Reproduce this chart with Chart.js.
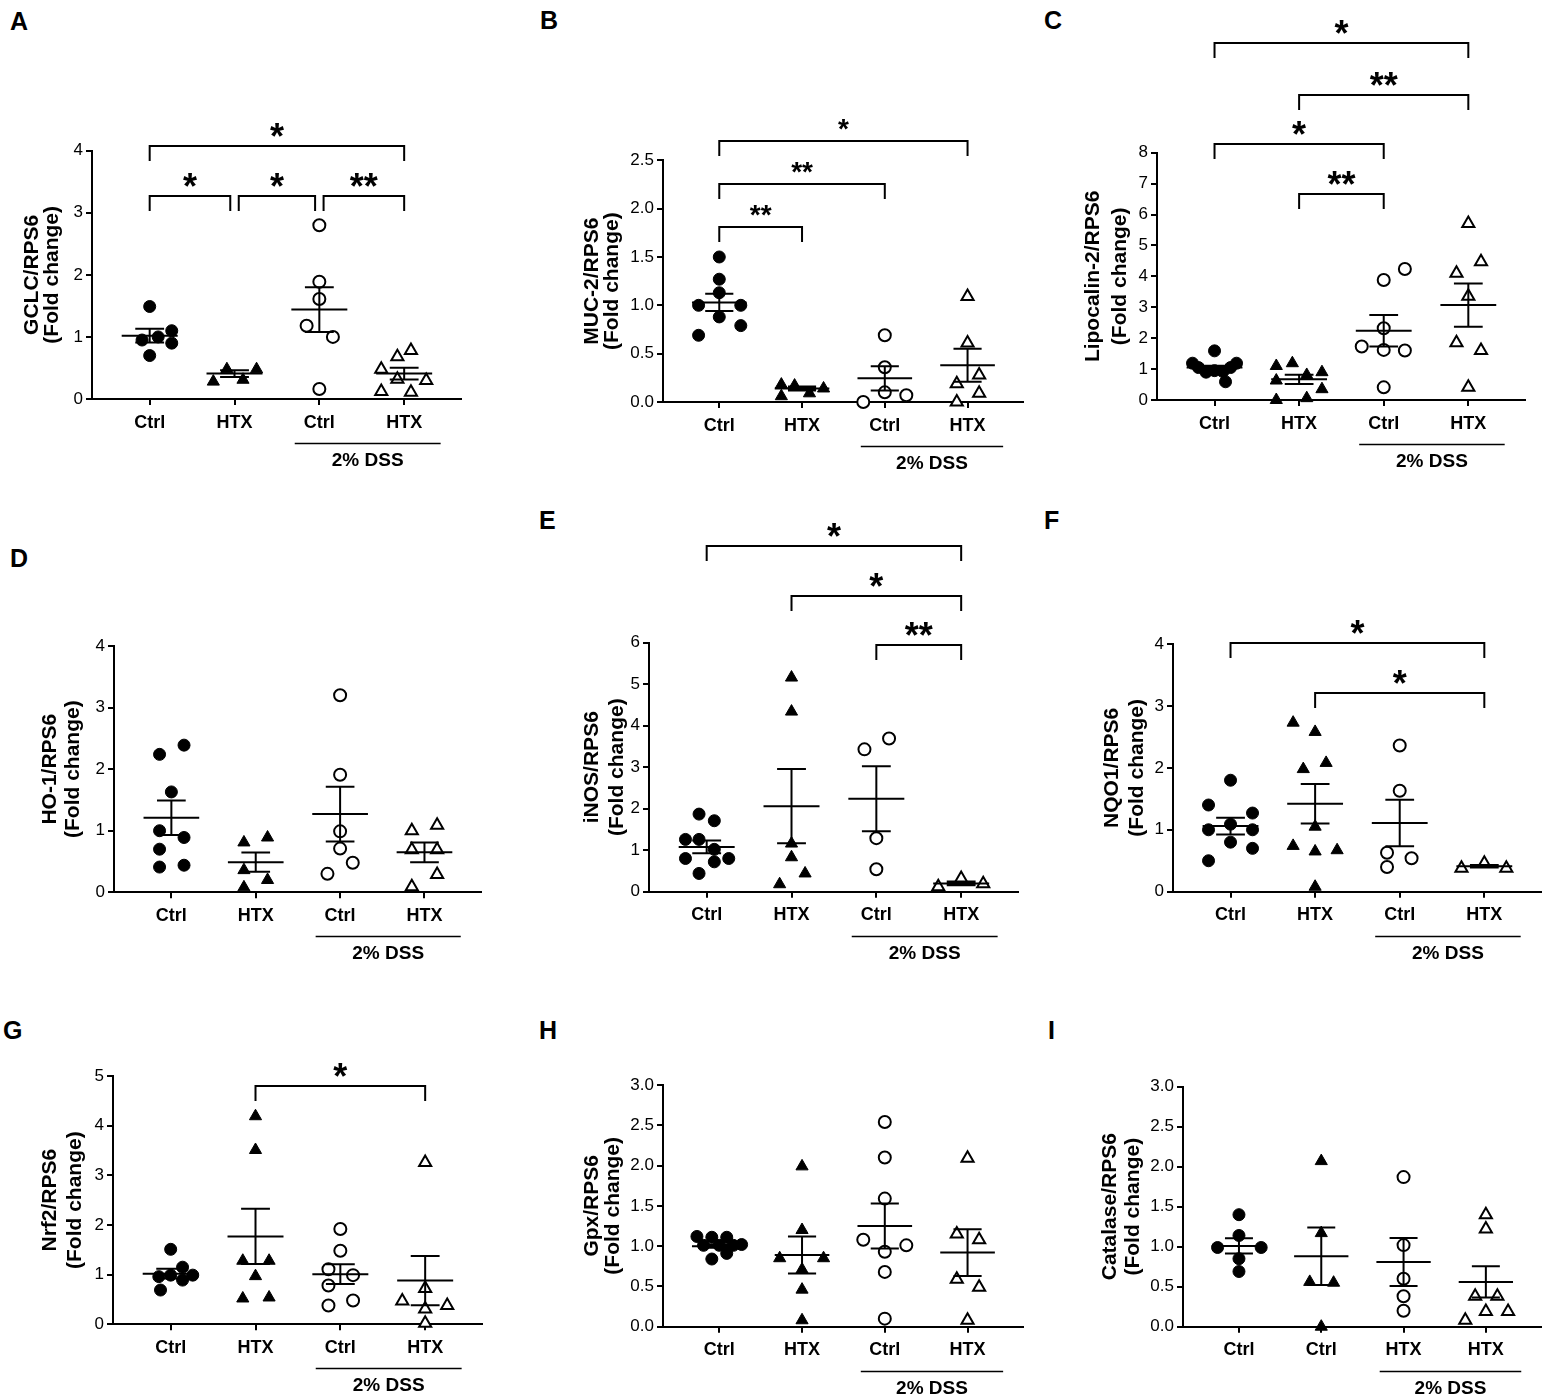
<!DOCTYPE html>
<html>
<head>
<meta charset="utf-8">
<script src="https://cdn.jsdelivr.net/npm/chart.js@4.4.1/dist/chart.umd.min.js"></script>
<style>
  body { margin: 0; background: #fff; width: 1552px; height: 1400px; position: relative; overflow: hidden;
         font-family: 'Liberation Sans', Arial, sans-serif; }
  canvas { position: absolute; }
  .tag { position: absolute; font-weight: bold; font-size: 25px; line-height: 1; color: #000; }
</style>
</head>
<body>
<div class="tag" style="left:10px;top:9px">A</div>
<div class="tag" style="left:540px;top:8px">B</div>
<div class="tag" style="left:1044px;top:8px">C</div>
<div class="tag" style="left:10px;top:546px">D</div>
<div class="tag" style="left:539px;top:508px">E</div>
<div class="tag" style="left:1044px;top:508px">F</div>
<div class="tag" style="left:3px;top:1018px">G</div>
<div class="tag" style="left:539px;top:1018px">H</div>
<div class="tag" style="left:1048px;top:1018px">I</div>
<script>
// group labels on the x axis
const groupLabels = ['Ctrl', 'HTX', 'Ctrl', 'HTX'];
const catalaseLabels = ['Ctrl', 'Ctrl', 'HTX', 'HTX'];

// A - GCLC
const gclcValues = [[1.49, 0.95, 1.00, 1.10, 0.90, 0.70], [0.28, 0.48, 0.31, 0.48],
  [2.80, 1.89, 1.61, 1.18, 1.00, 0.16], [0.78, 0.68, 0.48, 0.32, 0.30, 0.12, 0.11]];
const gclcJitter = [[0, -0.09, 0.10, 0.26, 0.26, 0], [-0.25, -0.09, 0.10, 0.26],
  [0, 0, 0, -0.15, 0.16, 0], [0.08, -0.08, -0.27, -0.08, 0.26, -0.27, 0.08]];
const gclcMean = [1.02, 0.41, 1.44, 0.41];
const gclcSem = [0.11, 0.055, 0.36, 0.095];
const gclcTicks = [0, 1, 2, 3, 4];
const gclcSig = [[0, 3, 4.08, '*'], [0, 1, 3.27, '*'], [1, 2, 3.27, '*'], [2, 3, 3.27, '**']];

// B - MUC-2
const muc2Values = [[1.50, 1.27, 1.13, 1.00, 1.00, 0.88, 0.79, 0.69], [0.18, 0.06, 0.17, 0.09, 0.14],
  [0.69, 0.36, 0.10, 0.00, 0.07], [1.09, 0.61, 0.28, 0.19, 0.09, 0.00]];
const muc2Jitter = [[0, 0, 0, -0.25, 0.26, 0, 0.26, -0.25], [-0.25, -0.25, -0.09, 0.09, 0.26],
  [0, 0, 0, -0.26, 0.26], [0, 0, 0.14, -0.13, 0.14, -0.13]];
const muc2Mean = [1.03, 0.14, 0.245, 0.38];
const muc2Sem = [0.09, 0.02, 0.125, 0.17];
const muc2Ticks = [0, 0.5, 1.0, 1.5, 2.0, 2.5];
const muc2Sig = [[0, 3, 2.70, '*'], [0, 2, 2.25, '**'], [0, 1, 1.81, '**']];

// C - Lipocalin-2
const lcn2Values = [[1.59, 1.19, 1.05, 0.90, 0.95, 0.92, 1.05, 1.19, 0.59],
  [1.10, 1.19, 0.63, 0.81, 0.90, 0.35, 0.00, 0.06],
  [4.24, 3.88, 2.32, 1.73, 1.62, 1.60, 0.41], [5.71, 4.47, 4.10, 3.36, 1.85, 1.60, 0.41]];
const lcn2Jitter = [[0, -0.26, -0.19, -0.10, 0, 0.10, 0.19, 0.26, 0.13],
  [-0.27, -0.08, -0.27, 0.09, 0.27, 0.27, -0.27, 0.09],
  [0.25, 0, 0, -0.26, 0, 0.25, 0], [0, 0.15, -0.14, 0, -0.14, 0.15, 0]];
const lcn2Mean = [1.05, 0.67, 2.24, 3.07];
const lcn2Sem = [0.06, 0.15, 0.51, 0.70];
const lcn2Ticks = [0, 1, 2, 3, 4, 5, 6, 7, 8];
const lcn2Sig = [[0, 3, 11.55, '*'], [1, 3, 9.87, '**'], [0, 2, 8.28, '*'], [1, 2, 6.67, '**']];

// D - HO-1
const ho1Values = [[2.39, 2.24, 1.63, 1.00, 0.89, 0.70, 0.41, 0.44], [0.89, 0.81, 0.36, 0.20, 0.08],
  [3.20, 1.91, 0.99, 0.71, 0.48, 0.30], [1.09, 1.00, 0.69, 0.69, 0.29, 0.09]];
const ho1Jitter = [[0.15, -0.14, 0, -0.14, 0.15, -0.14, -0.14, 0.15], [0.14, -0.14, -0.14, 0.14, -0.14],
  [0, 0, 0, 0, 0.15, -0.15], [0.15, -0.15, -0.15, 0.15, 0.15, -0.15]];
const ho1Mean = [1.21, 0.49, 1.27, 0.65];
const ho1Sem = [0.28, 0.155, 0.445, 0.16];
const ho1Ticks = [0, 1, 2, 3, 4];
const ho1Sig = [];

// E - iNOS
const inosValues = [[1.87, 1.71, 1.26, 1.26, 1.02, 0.80, 0.72, 0.80, 0.44], [5.16, 4.34, 1.16, 0.83, 0.44, 0.18],
  [3.69, 3.43, 1.29, 0.54], [0.12, 0.32, 0.19]];
const inosJitter = [[-0.09, 0.09, -0.25, -0.09, 0.09, -0.25, 0.09, 0.26, -0.09], [0, 0, 0, 0, 0.16, -0.14],
  [0.15, -0.14, 0, 0], [-0.27, 0, 0.26]];
const inosMean = [1.08, 2.06, 2.24, 0.20];
const inosSem = [0.155, 0.895, 0.785, 0.045];
const inosTicks = [0, 1, 2, 3, 4, 5, 6];
const inosSig = [[0, 3, 8.33, '*'], [1, 3, 7.13, '*'], [2, 3, 5.94, '**']];

// F - NQO1
const nqo1Values = [[1.80, 1.40, 1.27, 1.09, 1.00, 1.00, 0.80, 0.70, 0.50],
  [2.73, 2.58, 2.08, 1.98, 1.05, 0.74, 0.65, 0.67, 0.08],
  [2.36, 1.63, 0.63, 0.54, 0.40], [0.46, 0.38, 0.38]];
const nqo1Jitter = [[0, -0.26, 0.26, 0, -0.26, 0.26, 0, 0.26, -0.26],
  [-0.26, 0, 0.13, -0.14, 0, -0.26, 0, 0.26, 0],
  [0, 0, -0.15, 0.14, -0.15], [0, -0.27, 0.26]];
const nqo1Mean = [1.06, 1.42, 1.11, 0.41];
const nqo1Sem = [0.135, 0.32, 0.375, 0.02];
const nqo1Ticks = [0, 1, 2, 3, 4];
const nqo1Sig = [[0, 3, 4.02, '*'], [1, 3, 3.21, '*']];

// G - Nrf2
const nrf2Values = [[1.51, 1.15, 0.99, 0.96, 0.89, 0.99, 0.69], [4.19, 3.51, 1.28, 1.28, 0.97, 0.52, 0.54],
  [1.92, 1.48, 1.11, 0.99, 0.78, 0.48, 0.38], [3.26, 0.72, 0.47, 0.31, 0.38, 0.02]];
const nrf2Jitter = [[0, 0.14, 0, -0.14, 0.14, 0.26, -0.12], [0, 0, -0.15, 0.16, 0, -0.15, 0.16],
  [0, 0, -0.14, 0.15, -0.14, 0.15, -0.14], [0, 0, -0.27, 0, 0.26, 0]];
const nrf2Mean = [1.02, 1.77, 1.01, 0.88];
const nrf2Sem = [0.10, 0.555, 0.20, 0.495];
const nrf2Ticks = [0, 1, 2, 3, 4, 5];
const nrf2Sig = [[1, 3, 4.79, '*']];

// H - Gpx
const gpxValues = [[1.12, 1.11, 1.11, 1.01, 1.01, 1.01, 1.02, 0.84, 0.91], [1.99, 1.20, 0.85, 0.85, 0.71, 0.46, 0.08],
  [2.54, 2.10, 1.59, 1.08, 1.01, 0.93, 0.68, 0.10], [2.09, 1.15, 1.08, 0.59, 0.49, 0.08]];
const gpxJitter = [[-0.27, -0.09, 0.09, -0.19, 0, 0.17, 0.27, -0.09, 0.09], [0, 0, -0.27, 0.26, 0, 0, 0],
  [0, 0, 0, -0.26, 0.26, 0, 0, 0], [0, -0.13, 0.14, -0.13, 0.14, 0]];
const gpxMean = [1.00, 0.89, 1.25, 0.92];
const gpxSem = [0.02, 0.23, 0.28, 0.29];
const gpxTicks = [0, 0.5, 1.0, 1.5, 2.0, 2.5, 3.0];
const gpxSig = [];

// I - Catalase
const catValues = [[1.40, 1.14, 0.99, 0.99, 0.85, 0.69], [2.07, 1.17, 0.56, 0.55, 0.00],
  [1.87, 1.02, 0.60, 0.38, 0.20], [1.40, 1.22, 0.38, 0.38, 0.19, 0.19, 0.08]];
const catJitter = [[0, 0, -0.26, 0.27, 0, 0], [0, 0, -0.14, 0.15, 0],
  [0, 0, 0, 0, 0], [0, 0, -0.13, 0.14, 0, 0.27, -0.25]];
const catMean = [1.01, 0.88, 0.81, 0.56];
const catSem = [0.095, 0.36, 0.30, 0.195];
const catTicks = [0, 0.5, 1.0, 1.5, 2.0, 2.5, 3.0];
const catSig = [];

Chart.defaults.font.family = "'Liberation Sans', Arial, sans-serif";
Chart.defaults.color = '#000';

// page geometry of each panel (pixels)
const panels = [
  { name: 'GCLC/RPS6', groups: groupLabels, values: gclcValues, jitter: gclcJitter, mean: gclcMean, sem: gclcSem,
    ticks: gclcTicks, sig: gclcSig, star: 36,
    box: { t1: 32, lh: 20, axisX: 92, axisTop: 150.7, axisBottom: 399, axisRight: 466, rowTop: 0, rowBottom: 480 } },
  { name: 'MUC-2/RPS6', groups: groupLabels, values: muc2Values, jitter: muc2Jitter, mean: muc2Mean, sem: muc2Sem,
    ticks: muc2Ticks, sig: muc2Sig, star: 28,
    box: { t1: 592, lh: 20, axisX: 663, axisTop: 160.3, axisBottom: 402, axisRight: 1028, rowTop: 0, rowBottom: 480 } },
  { name: 'Lipocalin-2/RPS6', groups: groupLabels, values: lcn2Values, jitter: lcn2Jitter, mean: lcn2Mean, sem: lcn2Sem,
    ticks: lcn2Ticks, sig: lcn2Sig, star: 36,
    box: { t1: 1093, lh: 27, axisX: 1157, axisTop: 152.7, axisBottom: 400, axisRight: 1530, rowTop: 0, rowBottom: 480 } },
  { name: 'HO-1/RPS6', groups: groupLabels, values: ho1Values, jitter: ho1Jitter, mean: ho1Mean, sem: ho1Sem,
    ticks: ho1Ticks, sig: ho1Sig, star: 36,
    box: { t1: 50, lh: 23, axisX: 114, axisTop: 646, axisBottom: 892.3, axisRight: 486, rowTop: 500, rowBottom: 980 } },
  { name: 'iNOS/RPS6', groups: groupLabels, values: inosValues, jitter: inosJitter, mean: inosMean, sem: inosSem,
    ticks: inosTicks, sig: inosSig, star: 36,
    box: { t1: 592, lh: 25, axisX: 649, axisTop: 642.7, axisBottom: 891.7, axisRight: 1023, rowTop: 500, rowBottom: 980 } },
  { name: 'NQO1/RPS6', groups: groupLabels, values: nqo1Values, jitter: nqo1Jitter, mean: nqo1Mean, sem: nqo1Sem,
    ticks: nqo1Ticks, sig: nqo1Sig, star: 36,
    box: { t1: 1112, lh: 25, axisX: 1173, axisTop: 644, axisBottom: 891.7, axisRight: 1546, rowTop: 500, rowBottom: 980 } },
  { name: 'Nrf2/RPS6', groups: groupLabels, values: nrf2Values, jitter: nrf2Jitter, mean: nrf2Mean, sem: nrf2Sem,
    ticks: nrf2Ticks, sig: nrf2Sig, star: 36,
    box: { t1: 50, lh: 25, axisX: 113, axisTop: 1076, axisBottom: 1324.3, axisRight: 487, rowTop: 1000, rowBottom: 1400 } },
  { name: 'Gpx/RPS6', groups: groupLabels, values: gpxValues, jitter: gpxJitter, mean: gpxMean, sem: gpxSem,
    ticks: gpxTicks, sig: gpxSig, star: 36,
    box: { t1: 592, lh: 21, axisX: 663, axisTop: 1085, axisBottom: 1326.7, axisRight: 1028, rowTop: 1000, rowBottom: 1400 } },
  { name: 'Catalase/RPS6', groups: catalaseLabels, values: catValues, jitter: catJitter, mean: catMean, sem: catSem,
    ticks: catTicks, sig: catSig, star: 36,
    box: { t1: 1110, lh: 23, axisX: 1183, axisTop: 1086.7, axisBottom: 1326.7, axisRight: 1546, rowTop: 1000, rowBottom: 1400 } }
];

// brackets, stars and the "2% DSS" group line
function annotations(p) {
  return {
    id: 'annotations',
    afterDraw(chart) {
      const { ctx, scales: { x, y } } = chart;
      ctx.save();
      ctx.strokeStyle = '#000';
      ctx.fillStyle = '#000';
      p.sig.forEach(b => {
        let a = b[0], c = b[1];
        if (p.sig.some(o => o !== b && o[2] === b[2] && o[1] === a)) a += 0.05;
        if (p.sig.some(o => o !== b && o[2] === b[2] && o[0] === c)) c -= 0.05;
        const yy = Math.round(y.getPixelForValue(b[2]));
        const x1 = x.getPixelForValue(a), x2 = x.getPixelForValue(c);
        ctx.lineWidth = 2;
        ctx.beginPath();
        ctx.moveTo(x1, yy + 15);
        ctx.lineTo(x1, yy);
        ctx.lineTo(x2, yy);
        ctx.lineTo(x2, yy + 15);
        ctx.stroke();
        ctx.font = 'bold ' + p.star + "px 'Liberation Sans', Arial";
        ctx.textAlign = 'center';
        ctx.textBaseline = 'alphabetic';
        const m = ctx.measureText(b[3]);
        const cy = yy - 16.5;
        ctx.fillText(b[3], (x1 + x2) / 2, cy + (m.actualBoundingBoxAscent - m.actualBoundingBoxDescent) / 2);
      });
      const ly = Math.round(y.getPixelForValue(0)) + 44.5;
      ctx.lineWidth = 1.3;
      ctx.beginPath();
      ctx.moveTo(x.getPixelForValue(1.71), ly);
      ctx.lineTo(x.getPixelForValue(3.43), ly);
      ctx.stroke();
      ctx.font = "bold 19px 'Liberation Sans', Arial";
      ctx.textAlign = 'center';
      ctx.textBaseline = 'middle';
      ctx.fillText('2% DSS', x.getPixelForValue(2.57), ly + 17);
      ctx.restore();
    }
  };
}

function drawPanel(p) {
  const b = p.box;
  const left = Math.round(b.t1 - b.lh / 2);
  const width = Math.round(b.axisRight - left + 4);
  const height = b.rowBottom - b.rowTop;
  const cv = document.createElement('canvas');
  cv.width = width;
  cv.height = height;
  cv.style.left = left + 'px';
  cv.style.top = b.rowTop + 'px';
  cv.style.width = width + 'px';
  cv.style.height = height + 'px';
  document.body.appendChild(cv);

  const datasets = [];
  p.values.forEach((vals, g) => {
    const open = g >= 2;
    const tri = g % 2 === 1;
    datasets.push({
      type: 'scatter',
      data: vals.map((v, i) => ({ x: g + p.jitter[g][i], y: v })),
      pointStyle: tri ? 'triangle' : 'circle',
      pointRadius: tri ? 7 : 6,
      backgroundColor: open ? '#fff' : '#000',
      borderColor: '#000',
      borderWidth: open ? 2 : 1,
      clip: false,
      order: 2
    });
    // mean with SEM error bars
    const m = p.mean[g], s = p.sem[g];
    datasets.push({
      type: 'line',
      data: [
        { x: g - 0.33, y: m }, { x: g + 0.33, y: m }, { x: g, y: null },
        { x: g - 0.17, y: m + s }, { x: g + 0.17, y: m + s }, { x: g, y: null },
        { x: g - 0.17, y: m - s }, { x: g + 0.17, y: m - s }, { x: g, y: null },
        { x: g, y: m - s }, { x: g, y: m + s }
      ],
      borderColor: '#000',
      borderWidth: 2,
      pointRadius: 0,
      spanGaps: false,
      fill: false,
      clip: false,
      order: 1
    });
  });

  const decimals = p.ticks.some(t => t % 1 !== 0) ? 1 : 0;
  const axisGrid = { drawOnChartArea: false, drawTicks: true, tickLength: 6, lineWidth: 2, color: '#000' };
  const axisBorder = { display: true, width: 2, color: '#000' };

  new Chart(cv, {
    type: 'scatter',
    data: { datasets: datasets },
    options: {
      responsive: false,
      animation: false,
      events: [],
      layout: { padding: { top: b.axisTop - b.rowTop, right: 4, left: 0, bottom: 0 } },
      plugins: { legend: { display: false }, tooltip: { enabled: false } },
      scales: {
        x: {
          type: 'linear', min: -0.68, max: 3.67,
          afterBuildTicks: s => { s.ticks = [0, 1, 2, 3].map(v => ({ value: v })); },
          afterFit: s => { s.height = b.rowBottom - b.axisBottom; },
          ticks: { callback: v => p.groups[v], font: { size: 18, weight: 'bold' }, color: '#000',
                   padding: 7, maxRotation: 0, autoSkip: false },
          grid: axisGrid,
          border: axisBorder
        },
        y: {
          type: 'linear', min: p.ticks[0], max: p.ticks[p.ticks.length - 1],
          afterBuildTicks: s => { s.ticks = p.ticks.map(v => ({ value: v })); },
          afterFit: s => { s.width = b.axisX - left; },
          ticks: { callback: v => v.toFixed(decimals), font: { size: 17 }, color: '#000', padding: 3 },
          grid: axisGrid,
          border: axisBorder,
          title: { display: true, text: [p.name, '(Fold change)'], color: '#000', padding: 0,
                   font: { size: 21, weight: 'bold', lineHeight: b.lh / 21 } }
        }
      }
    },
    plugins: [annotations(p)]
  });
}

panels.forEach(drawPanel);
</script>
</body>
</html>
